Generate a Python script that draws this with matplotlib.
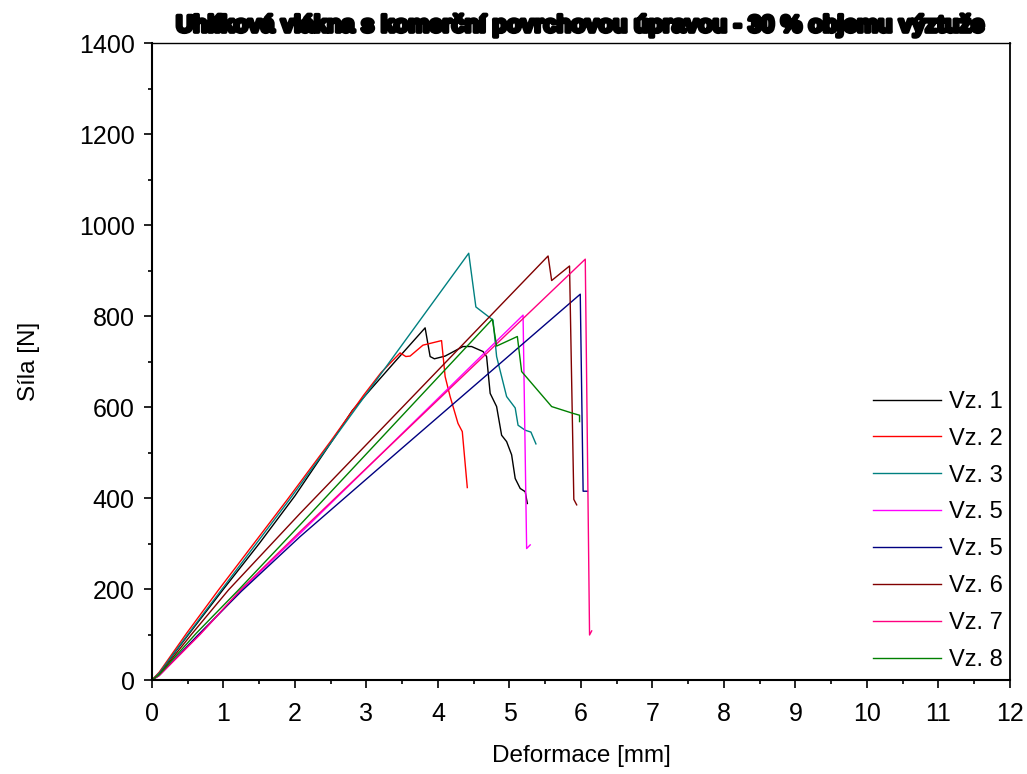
import matplotlib
matplotlib.use("Agg")
import matplotlib.pyplot as plt
import matplotlib.patheffects as pe
from matplotlib.ticker import MultipleLocator

plt.rcParams['font.family'] = ['Liberation Sans', 'DejaVu Sans']

# Force-deformation curves of individual specimens
labels = ["Vz. 1", "Vz. 2", "Vz. 3", "Vz. 5", "Vz. 5", "Vz. 6", "Vz. 7", "Vz. 8"]
colors = ["#000000", "#FF0000", "#008080", "#FF00FF", "#000080", "#800000", "#FF0080", "#008000"]

x1 = [0, 0.1, 0.5, 1.0, 1.5, 2.0, 2.56, 2.8, 3.07, 3.4, 3.82, 3.89, 3.95, 4.1, 4.35, 4.47,
      4.63, 4.68, 4.73, 4.82, 4.89, 4.96, 5.03, 5.08, 5.15, 5.22, 5.25]
y1 = [0, 15, 98, 200, 300, 405, 535, 592, 641, 700, 774, 711, 706, 712, 733, 733,
      722, 711, 630, 601, 538, 524, 495, 443, 421, 414, 388]

x2 = [0, 0.1, 0.485, 0.93, 1.89, 2.5, 2.96, 3.2, 3.47, 3.55, 3.61, 3.79, 4.05, 4.10,
      4.17, 4.28, 4.34, 4.41]
y2 = [0, 17, 103, 198, 396, 525, 626, 675, 719, 711, 712, 736, 746, 667,
      623, 564, 546, 423]

x3 = [0, 0.1, 0.5, 1.92, 4.43, 4.53, 4.77, 4.82, 4.96, 5.08, 5.12, 5.22, 5.30, 5.37]
y3 = [0, 15, 100, 396, 938, 820, 791, 711, 623, 598, 560, 549, 545, 519]

x4 = [0, 0.1, 0.67, 1.25, 2.07, 5.19, 5.24, 5.29]
y4 = [0, 10, 100, 198, 322, 802, 289, 297]

x5 = [0, 0.1, 0.65, 1.25, 2.07, 3.5, 5.99, 6.03, 6.09]
y5 = [0, 10, 100, 195, 315, 510, 848, 415, 415]

x6 = [0, 0.1, 0.55, 1.07, 2.07, 5.54, 5.59, 5.84, 5.90, 5.94]
y6 = [0, 12, 100, 198, 366, 932, 878, 910, 397, 385]

x7 = [0, 0.1, 0.67, 1.25, 2.07, 6.06, 6.12, 6.15]
y7 = [0, 10, 100, 200, 326, 925, 99, 108]

x8 = [0, 0.1, 0.62, 1.21, 2.07, 4.76, 4.82, 5.11, 5.17, 5.59, 5.89, 5.98, 5.98]
y8 = [0, 12, 103, 198, 341, 793, 734, 755, 678, 601, 586, 582, 568]

series_x = [x1, x2, x3, x4, x5, x6, x7, x8]
series_y = [y1, y2, y3, y4, y5, y6, y7, y8]

fig = plt.figure(figsize=(10.27, 7.74), dpi=100)
ax = fig.add_axes([0.148, 0.1214, 0.8354, 0.823])

for xs, ys, c, lab in zip(series_x, series_y, colors, labels):
    ax.plot(xs, ys, color=c, lw=1.0, label=lab)

ax.set_xlim(0, 12)
ax.set_ylim(0, 1400)
ax.xaxis.set_major_locator(MultipleLocator(1))
ax.xaxis.set_minor_locator(MultipleLocator(0.5))
ax.yaxis.set_major_locator(MultipleLocator(200))
ax.yaxis.set_minor_locator(MultipleLocator(100))

ax.tick_params(which='major', direction='out', length=5.5, width=1.2, labelsize=18)
ax.tick_params(axis='x', which='major', pad=10)
ax.tick_params(axis='y', which='major', pad=7)
ax.tick_params(which='minor', direction='out', length=3, width=1.2)
ax.tick_params(top=False, right=False, which='both')
for side in ['left', 'bottom']:
    ax.spines[side].set_linewidth(1.5)
ax.spines['right'].set_linewidth(1.3)
ax.spines['top'].set_linewidth(1.0)

ax.set_xlabel("Deformace [mm]", fontsize=17.5, labelpad=14)
ax.set_ylabel("Síla [N]", fontsize=17.5, labelpad=28)

ax.set_title("Uhlíková vlákna s komerční povrchovou úpravou - 30 % objemu výztuže",
             fontsize=17, fontweight='bold', pad=8,
             path_effects=[pe.withStroke(linewidth=2.8, foreground='black')])

ax.legend(loc='lower right', bbox_to_anchor=(1.008, -0.008), frameon=False, fontsize=17,
          handlelength=2.85, handletextpad=0.35, labelspacing=0.63, borderaxespad=0.2)

fig.savefig("out.png", dpi=100)
